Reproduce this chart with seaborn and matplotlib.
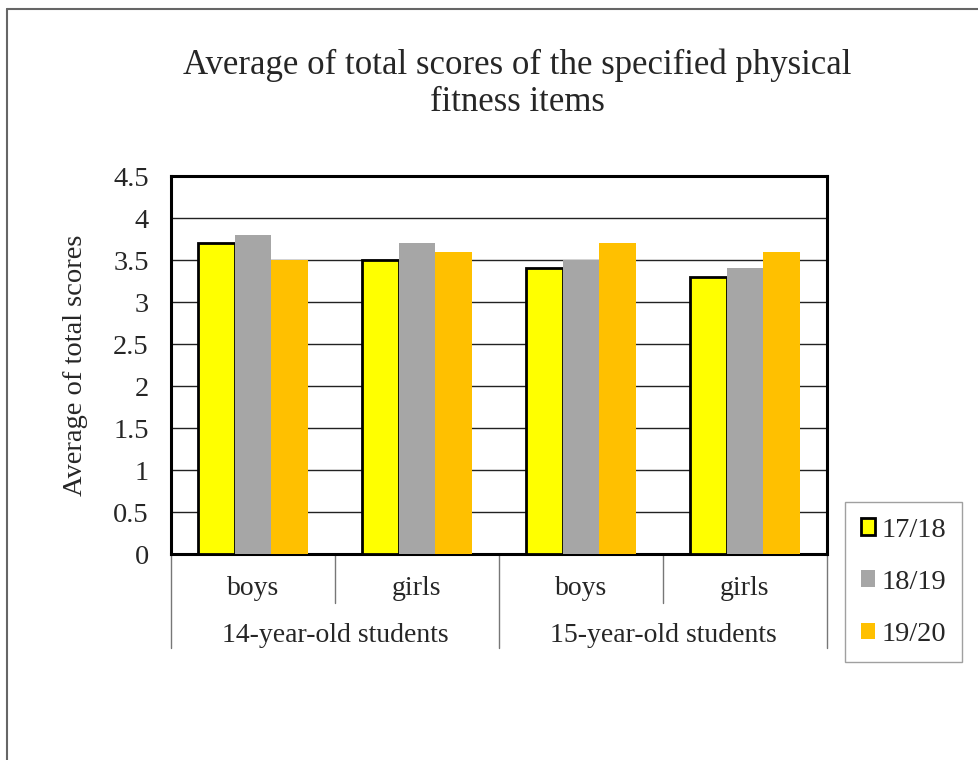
import pandas as pd
import matplotlib.pyplot as plt
import seaborn as sns
from matplotlib.lines import Line2D
from matplotlib.transforms import blended_transform_factory

# data
groups = ["boys", "girls", "boys", "girls"]
ages = ["14-year-old students", "15-year-old students"]
years = ["17/18", "18/19", "19/20"]
scores_1718 = [3.7, 3.5, 3.4, 3.3]
scores_1819 = [3.8, 3.7, 3.5, 3.4]
scores_1920 = [3.5, 3.6, 3.7, 3.6]
yticks = [0, 0.5, 1, 1.5, 2, 2.5, 3, 3.5, 4, 4.5]
ytick_labels = ["0", "0.5", "1", "1.5", "2", "2.5", "3", "3.5", "4", "4.5"]
colors = ["#FFFF00", "#A6A6A6", "#FFC000"]

sns.set_style("white")
plt.rcParams["font.family"] = ["Liberation Serif", "DejaVu Serif"]

# long form table for seaborn
cat_ids = [f"c{i}" for i in range(len(groups))]
rows = []
for yr, vals in zip(years, [scores_1718, scores_1819, scores_1920]):
    for c, v in zip(cat_ids, vals):
        rows.append({"cat": c, "year": yr, "score": v})
df = pd.DataFrame(rows)

fig = plt.figure(figsize=(9.79, 7.6), dpi=100)
ax = fig.add_axes([171 / 979, 1 - 554 / 760, 656 / 979, 378 / 760])

sns.barplot(data=df, x="cat", y="score", hue="year", order=cat_ids,
            hue_order=years, palette=colors, width=0.67, gap=0,
            saturation=1, ax=ax, legend=False, zorder=3)

# black outline only on the 17/18 bars
for patch in ax.containers[0]:
    patch.set_edgecolor("black")
    patch.set_linewidth(2)
for cont in ax.containers[1:]:
    for patch in cont:
        patch.set_linewidth(0)

ax.set_xlim(-0.5, len(groups) - 0.5)
ax.set_ylim(0, 4.5)
ax.set_yticks(yticks)
ax.set_yticklabels(ytick_labels, fontsize=20.5)
ax.tick_params(axis="y", length=0, pad=16)
ax.set_xticks([])
ax.set_xlabel("")
ax.set_ylabel("Average of total scores", fontsize=20.5, labelpad=18)
ax.yaxis.grid(True, color="#222222", linewidth=1, zorder=0)
ax.set_axisbelow(True)
for sp in ax.spines.values():
    sp.set_visible(True)
    sp.set_color("black")
    sp.set_linewidth(2.2)

# two-level category axis below the plot
trans = blended_transform_factory(ax.transData, ax.transAxes)
for i, g in enumerate(groups):
    ax.text(i, -0.092, g, transform=trans, ha="center", va="center",
            fontsize=20)
for j, a in enumerate(ages):
    ax.text(2 * j + 0.5, -0.215, a, transform=trans, ha="center",
            va="center", fontsize=20)
for k in range(len(groups) + 1):
    y_end = -0.249 if k % 2 == 0 else -0.13
    ax.add_line(Line2D([k - 0.5, k - 0.5], [0, y_end], transform=trans,
                       color="#777777", linewidth=1, clip_on=False))

fig.text(517 / 979, 1 - 84 / 760,
         "Average of total scores of the specified physical\nfitness items",
         ha="center", va="center", fontsize=25, linespacing=1.15)

# legend
handles = [plt.Rectangle((0, 0), 1, 1, facecolor=colors[0], edgecolor="black",
                         linewidth=2),
           plt.Rectangle((0, 0), 1, 1, facecolor=colors[1], linewidth=0),
           plt.Rectangle((0, 0), 1, 1, facecolor=colors[2], linewidth=0)]
leg = fig.legend(handles, years, loc="upper left",
                 bbox_to_anchor=(845 / 979, 1 - 502 / 760), fontsize=20.5,
                 frameon=True, fancybox=False, handlelength=0.5,
                 handleheight=0.5, handletextpad=0.25, labelspacing=0.95,
                 borderpad=0.55, borderaxespad=0)
leg.get_frame().set_edgecolor("#888888")
leg.get_frame().set_linewidth(1)

# outer border on top and left
fig.add_artist(Line2D([7 / 979, 1], [1 - 9 / 760, 1 - 9 / 760],
                      transform=fig.transFigure, color="#666666", linewidth=1.5))
fig.add_artist(Line2D([7 / 979, 7 / 979], [0, 1 - 9 / 760],
                      transform=fig.transFigure, color="#666666", linewidth=1.5))

fig.savefig("out.png", dpi=100)
